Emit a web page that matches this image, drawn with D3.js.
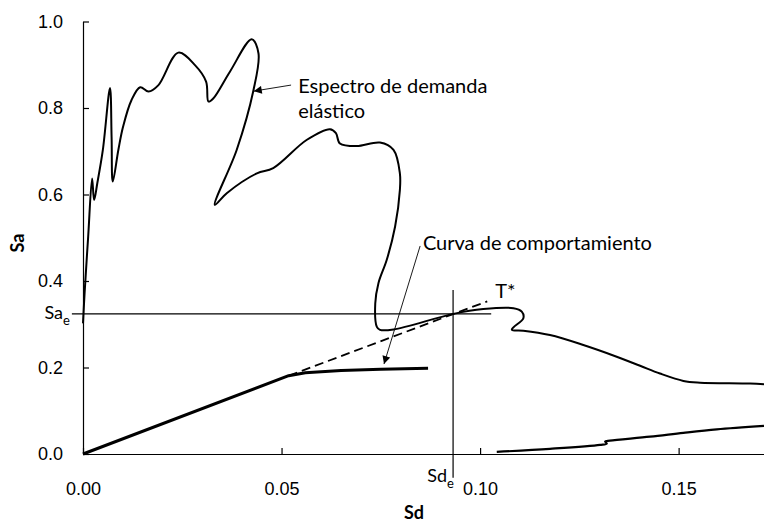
<!DOCTYPE html>
<html>
<head>
<meta charset="utf-8">
<script src="https://cdn.jsdelivr.net/npm/d3@7"></script>
<style>
  body { margin: 0; background: #fff; }
  svg { display: block; font-family: Lato, "Open Sans", sans-serif; }
</style>
</head>
<body>
<svg id="chart" width="764" height="523"></svg>
<script>
// values (Sd, Sa)
var xTicks = [0, 0.05, 0.10, 0.15];
var yTicks = [0, 0.2, 0.4, 0.6, 0.8, 1.0];

var spectrum = [
  [0.0000, 0.302], [0.0004, 0.372], [0.0013, 0.502], [0.0023, 0.637], [0.0028, 0.587],
  [0.0036, 0.626], [0.0050, 0.703], [0.0068, 0.846], [0.0072, 0.733], [0.0075, 0.630],
  [0.0089, 0.703], [0.0101, 0.757], [0.0122, 0.818], [0.0144, 0.848], [0.0165, 0.838],
  [0.0190, 0.853], [0.0240, 0.928], [0.0282, 0.899], [0.0310, 0.861], [0.0316, 0.815],
  [0.0328, 0.822], [0.0370, 0.884], [0.0425, 0.959], [0.0442, 0.926], [0.0429, 0.840],
  [0.0387, 0.703], [0.0332, 0.576], [0.0362, 0.603], [0.0438, 0.649], [0.0479, 0.661],
  [0.0563, 0.726], [0.0622, 0.751], [0.0637, 0.742], [0.0647, 0.718], [0.0689, 0.712],
  [0.0748, 0.720], [0.0782, 0.703], [0.0798, 0.649], [0.0798, 0.610], [0.0786, 0.526],
  [0.0765, 0.449], [0.0744, 0.395], [0.0736, 0.348], [0.0740, 0.294], [0.0748, 0.287],
  [0.0782, 0.288], [0.0933, 0.324], [0.1008, 0.335], [0.1084, 0.337], [0.1105, 0.329],
  [0.1109, 0.314], [0.1084, 0.293], [0.1080, 0.287], [0.1109, 0.285], [0.1176, 0.275],
  [0.1260, 0.252], [0.1344, 0.225], [0.1403, 0.204], [0.1453, 0.186], [0.1512, 0.169],
  [0.1554, 0.165], [0.1680, 0.163], [0.1715, 0.161]
];

var spectrumLow = [
  [0.1042, 0.005], [0.1176, 0.012], [0.1302, 0.021], [0.1319, 0.024], [0.1315, 0.029],
  [0.1327, 0.031], [0.1428, 0.040], [0.1512, 0.049], [0.1596, 0.057], [0.1715, 0.065]
];

var capacity = [
  [0, 0], [0.0518, 0.181], [0.056, 0.188], [0.065, 0.193], [0.075, 0.196], [0.0869, 0.198]
];

var tStar = [[0.0518, 0.181], [0.1018, 0.353]];

var SaE = 0.324;
var SdE = 0.0932;
var SaELine = [[-0.0028, SaE], [0.1028, SaE]];
var SdELine = [[SdE, -0.055], [SdE, 0.379]];

var arrowSpectrum = [[0.0524, 0.853], [0.0430, 0.839]];
var arrowCapacity = [[0.0849, 0.481], [0.0758, 0.208]];

var svg = d3.select('#chart');

var x = d3.scaleLinear().domain([0, 0.1715]).range([83, 764]);
var y = d3.scaleLinear().domain([0, 1]).range([454, 21.5]);

var line = d3.line()
  .x(function(d) { return x(d[0]); })
  .y(function(d) { return y(d[1]); });

var smooth = d3.line()
  .x(function(d) { return x(d[0]); })
  .y(function(d) { return y(d[1]); })
  .curve(d3.curveCatmullRom.alpha(0.5));

svg.append('defs').append('marker')
  .attr('id', 'head')
  .attr('viewBox', '0 0 10 10')
  .attr('refX', 10)
  .attr('refY', 5)
  .attr('markerWidth', 9)
  .attr('markerHeight', 8)
  .attr('markerUnits', 'userSpaceOnUse')
  .attr('orient', 'auto')
  .append('path')
  .attr('d', 'M0,0L10,5L0,10z')
  .attr('fill', '#000');

// axes
var xAxis = d3.axisBottom(x)
  .tickValues(xTicks)
  .tickFormat(d3.format('.2f'))
  .tickSizeInner(-6)
  .tickSizeOuter(0)
  .tickPadding(28);

var yAxis = d3.axisLeft(y)
  .tickValues(yTicks)
  .tickFormat(d3.format('.1f'))
  .tickSizeInner(-6)
  .tickSizeOuter(0)
  .tickPadding(20);

svg.append('g')
  .attr('transform', 'translate(0,' + y(0) + ')')
  .call(xAxis)
  .call(function(g) {
    g.selectAll('text').attr('font-size', 18).attr('font-family', null).attr('fill', '#000');
    g.selectAll('line, path').attr('stroke', '#000').attr('stroke-width', 1.2);
  });

svg.append('g')
  .attr('transform', 'translate(' + x(0) + ',0)')
  .call(yAxis)
  .call(function(g) {
    g.selectAll('text').attr('font-size', 18).attr('font-family', null).attr('fill', '#000');
    g.selectAll('line, path').attr('stroke', '#000').attr('stroke-width', 1.2);
  });

// reference lines
svg.append('path').attr('d', line(SaELine))
  .attr('fill', 'none').attr('stroke', '#000').attr('stroke-width', 1.2);
svg.append('path').attr('d', line(SdELine))
  .attr('fill', 'none').attr('stroke', '#000').attr('stroke-width', 1.2);

// curves
svg.append('path').attr('d', smooth(spectrum))
  .attr('fill', 'none').attr('stroke', '#000').attr('stroke-width', 2)
  .attr('stroke-linejoin', 'round');
svg.append('path').attr('d', smooth(spectrumLow))
  .attr('fill', 'none').attr('stroke', '#000').attr('stroke-width', 2.2);

svg.append('path').attr('d', line(tStar))
  .attr('fill', 'none').attr('stroke', '#000').attr('stroke-width', 1.8)
  .attr('stroke-dasharray', '9,5');

// capacity curve keeps its sharp elbow
svg.append('path').attr('d', line(capacity))
  .attr('fill', 'none').attr('stroke', '#000').attr('stroke-width', 3)
  .attr('stroke-linejoin', 'round');

// annotation arrows
[arrowSpectrum, arrowCapacity].forEach(function(a) {
  svg.append('path').attr('d', line(a))
    .attr('fill', 'none').attr('stroke', '#000').attr('stroke-width', 0.9)
    .attr('marker-end', 'url(#head)');
});

// labels
function label(txt, px, py, size, weight) {
  return svg.append('text')
    .attr('x', px).attr('y', py)
    .attr('font-size', size || 18)
    .attr('font-weight', weight || 'normal')
    .text(txt);
}

label('Espectro de demanda', x(0.0542), 93, 20);
label('elástico', x(0.0542), 118, 20);
label('Curva de comportamiento', x(0.0856), 250, 20);
label('T*', x(0.1038), 298, 20);

label('Sa', 63, 319).attr('text-anchor', 'end');
label('e', 63, 325, 13);
label('Sd', 447, 482).attr('text-anchor', 'end');
label('e', 447, 488, 13);

svg.append('text')
  .attr('transform', 'translate(24,243) rotate(-90)')
  .attr('text-anchor', 'middle')
  .attr('font-size', 18)
  .attr('font-weight', 'bold')
  .text('Sa');

label('Sd', 414, 519, 18, 'bold').attr('text-anchor', 'middle');
</script>
</body>
</html>
